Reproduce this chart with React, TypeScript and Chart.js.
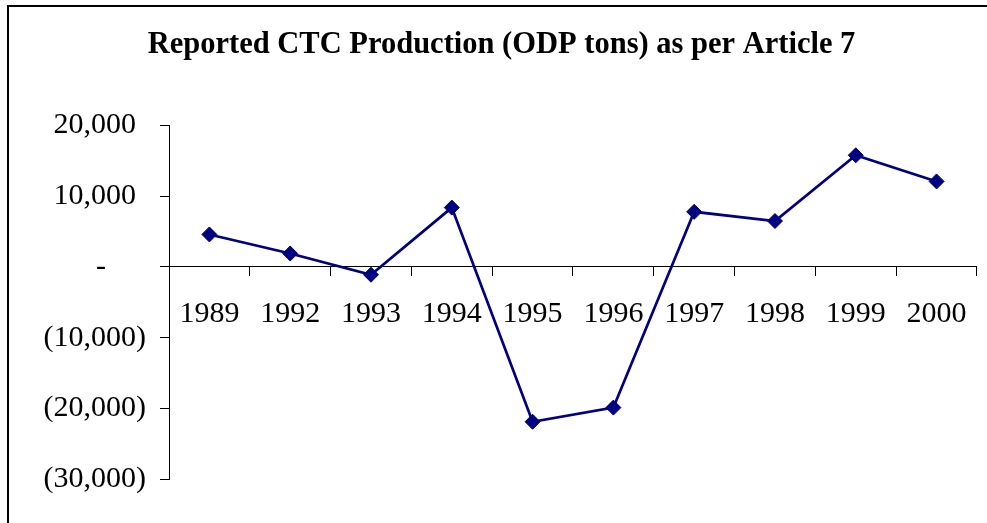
import React, { useEffect, useRef } from 'react';
import { Chart, registerables } from 'chart.js';

Chart.register(...registerables);

const chartTitle = 'Reported CTC Production (ODP tons) as per Article 7';
const categories = ['1989', '1992', '1993', '1994', '1995', '1996', '1997', '1998', '1999', '2000'];
const production = [4600, 1900, -1100, 8400, -21900, -19900, 7800, 6500, 15800, 12100];
const yTickValues = [20000, 10000, 0, -10000, -20000, -30000];
const yTickLabels = ['20,000', '10,000', '-', '(10,000)', '(20,000)', '(30,000)'];

const FONT = "'Times New Roman', 'Liberation Serif', serif";

const frame = {
  id: 'frame',
  beforeDraw(chart: any) {
    const { ctx, width, height } = chart;
    ctx.save();
    ctx.fillStyle = '#ffffff';
    ctx.fillRect(0, 0, width, height);
    ctx.fillStyle = '#000000';
    ctx.fillRect(7, 5, width, 2);
    ctx.fillRect(7, 5, 2, height);
    ctx.restore();
  },
};

export default function App() {
  const ref = useRef<HTMLCanvasElement>(null);

  useEffect(() => {
    if (!ref.current) return;
    const chart = new Chart(ref.current, {
      type: 'line',
      data: {
        labels: categories,
        datasets: [
          {
            data: production,
            borderColor: '#000080',
            backgroundColor: '#000080',
            borderWidth: 2.7,
            pointStyle: 'rectRot',
            pointRadius: 7.5,
            pointBorderWidth: 1,
            pointBackgroundColor: '#000080',
            pointBorderColor: '#000080',
            tension: 0,
            fill: false,
          },
        ],
      },
      options: {
        responsive: false,
        animation: false,
        devicePixelRatio: 1,
        layout: { padding: { left: 24, right: 8, top: 0, bottom: 44 } },
        plugins: {
          legend: { display: false },
          tooltip: { enabled: false },
          title: {
            display: true,
            text: chartTitle,
            color: '#000',
            font: { family: FONT, size: 30.5, weight: 'bold' },
            padding: { top: 27, bottom: 62 },
          },
        },
        scales: {
          x: {
            type: 'category',
            offset: true,
            position: { y: 0 } as any,
            grid: {
              offset: true,
              drawOnChartArea: false,
              drawTicks: true,
              tickLength: 9,
              color: '#000',
              lineWidth: 1,
            },
            border: { display: true, color: '#000', width: 1 },
            ticks: {
              color: '#000',
              font: { family: FONT, size: 30 },
              padding: 20,
              maxRotation: 0,
              autoSkip: false,
            },
            afterFit: (s: any) => {
              s.height = 0;
            },
          },
          y: {
            min: -30000,
            max: 20000,
            afterBuildTicks: (s: any) => {
              s.ticks = yTickValues.map((v) => ({ value: v }));
            },
            grid: {
              drawOnChartArea: false,
              drawTicks: true,
              tickLength: 9,
              color: '#000',
              lineWidth: 1,
            },
            border: { display: true, color: '#000', width: 1 },
            ticks: {
              color: '#000',
              font: { family: FONT, size: 30 },
              padding: 14,
              callback: (v: any) => {
                const i = yTickValues.indexOf(Number(v));
                const label = i >= 0 ? yTickLabels[i] : '';
                if (Number(v) > 0) return label + ' \u200A';
                if (Number(v) === 0) return label + '     \u200A';
                return label;
              },
            },
            afterFit: (s: any) => {
              s.width = 145;
            },
          },
        },
      },
      plugins: [frame],
    });
    return () => chart.destroy();
  }, []);

  return (
    <div style={{ position: 'fixed', left: 0, top: 0, width: 987, height: 523, background: '#fff' }}>
      <canvas ref={ref} width={987} height={523} style={{ display: 'block', width: 987, height: 523 }} />
    </div>
  );
}
